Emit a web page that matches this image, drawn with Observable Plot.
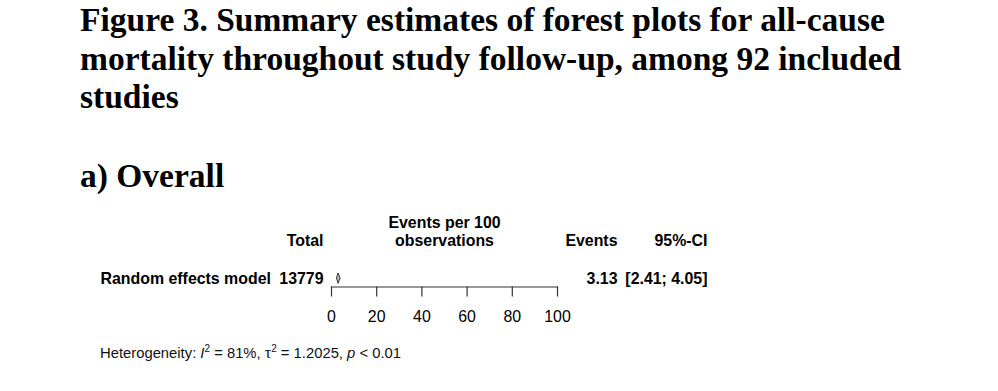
<!DOCTYPE html>
<html><head><meta charset="utf-8">
<script src="https://cdn.jsdelivr.net/npm/d3@7"></script>
<script src="https://cdn.jsdelivr.net/npm/@observablehq/plot@0.6"></script>
<style>
html,body{margin:0;padding:0;background:#fff;}
body{width:998px;height:391px;position:relative;overflow:hidden;}
.ttl{position:absolute;left:80px;font-family:"Liberation Serif","Times New Roman",serif;font-weight:bold;font-size:33.5px;line-height:38.5px;color:#000;white-space:nowrap;}
#chart{position:absolute;left:0;top:200px;}
#het{position:absolute;left:100px;top:345px;font-family:"Liberation Sans",Arial,sans-serif;font-size:14.8px;line-height:16px;color:#111;white-space:nowrap;}
#het sup{font-size:10px;line-height:0;vertical-align:6px;}
.tau{font-family:"Liberation Serif",serif;font-size:16px;}
</style>
</head><body>
<div class="ttl" style="top:1px">Figure 3. Summary estimates of forest plots for all-cause<br>mortality throughout study follow-up, among 92 included<br>studies</div>
<div class="ttl" style="top:157px">a) Overall</div>
<div id="chart"></div>
<div id="het"></div>
<script>
// ---- data ----
const models = ["Random effects model"];
const totals = [13779];
const estimates = [3.13];   // events per 100 observations
const lowers = [2.41];
const uppers = [4.05];
const xTicks = [0, 20, 40, 60, 80, 100];
const headerTotal = "Total";
const headerPlot = "Events per 100\nobservations";
const headerEvents = "Events";
const headerCI = "95%-CI";
const hetI2 = "81%";
const hetTau2 = "1.2025";
const hetP = "< 0.01";

// ---- build ----
const rows = models.map((m, i) => ({
  model: m, total: totals[i], est: estimates[i], lo: lowers[i], hi: uppers[i],
  estText: estimates[i].toFixed(2),
  ciText: `[${lowers[i].toFixed(2)}; ${uppers[i].toFixed(2)}]`
}));
const diamond = rows.flatMap(r => [
  {y: -1, x1: r.est, x2: r.est},
  {y: 0, x1: r.lo, x2: r.hi},
  {y: 1, x1: r.est, x2: r.est}
]);

const W = 998, H = 130, mL = 331, mR = 441, mB = 43.5;
const font = "'Liberation Sans', Arial, sans-serif";
const rowY = 78, hdrY = 40;
const colTotal = 323, colEvents = 617, colCI = 707, colLabel = 100;
const FS = 15.9;
const bold = {fontWeight: "bold", fontSize: FS, fill: "#000", frameAnchor: "top-left", lineAnchor: "middle"};

const chart = Plot.plot({
  width: W, height: H,
  marginLeft: mL, marginRight: mR, marginTop: 0, marginBottom: mB,
  style: {fontFamily: font, background: "white", color: "#000", overflow: "visible"},
  x: {domain: [0, 100], axis: null},
  y: {domain: [-1, 1], range: [83, 73], axis: null},
  marks: [
    Plot.frame({anchor: "bottom", stroke: "#333", strokeWidth: 1.2}),
    Plot.axisX({anchor: "bottom", ticks: xTicks, tickSize: 10, tickPadding: 14, fontSize: FS, stroke: "#333", fill: "#000", strokeWidth: 1.2}),
    Plot.areaX(diamond, {y: "y", x1: "x1", x2: "x2", fill: "#bbb", stroke: "#333", strokeWidth: 1, curve: "linear"}),
    // header
    Plot.text([headerTotal], {text: d => d, ...bold, textAnchor: "end", dx: colTotal - mL, dy: hdrY}),
    Plot.text([headerPlot], {text: d => d, x: () => 50, y: () => 0, fontWeight: "bold", fontSize: FS, fill: "#000", lineHeight: 1.15, dy: 30.9 - rowY}),
    Plot.text([headerEvents], {text: d => d, ...bold, textAnchor: "end", dx: colEvents - mL, dy: hdrY}),
    Plot.text([headerCI], {text: d => d, ...bold, textAnchor: "end", dx: colCI - mL, dy: hdrY}),
    // rows
    Plot.text(rows, {text: "model", ...bold, textAnchor: "start", dx: colLabel - mL, dy: rowY}),
    Plot.text(rows, {text: d => String(d.total), ...bold, textAnchor: "end", dx: colTotal - mL, dy: rowY}),
    Plot.text(rows, {text: "estText", ...bold, textAnchor: "end", dx: colEvents - mL, dy: rowY}),
    Plot.text(rows, {text: "ciText", ...bold, textAnchor: "end", dx: colCI - mL, dy: rowY})
  ]
});
document.getElementById("chart").appendChild(chart);
document.getElementById("het").innerHTML =
  `Heterogeneity: <i>I</i><sup>2</sup> = ${hetI2}, <span class="tau">τ</span><sup>2</sup> = ${hetTau2}, <i>p</i> ${hetP.replace("<", "&lt;")}`;
</script>
</body></html>
